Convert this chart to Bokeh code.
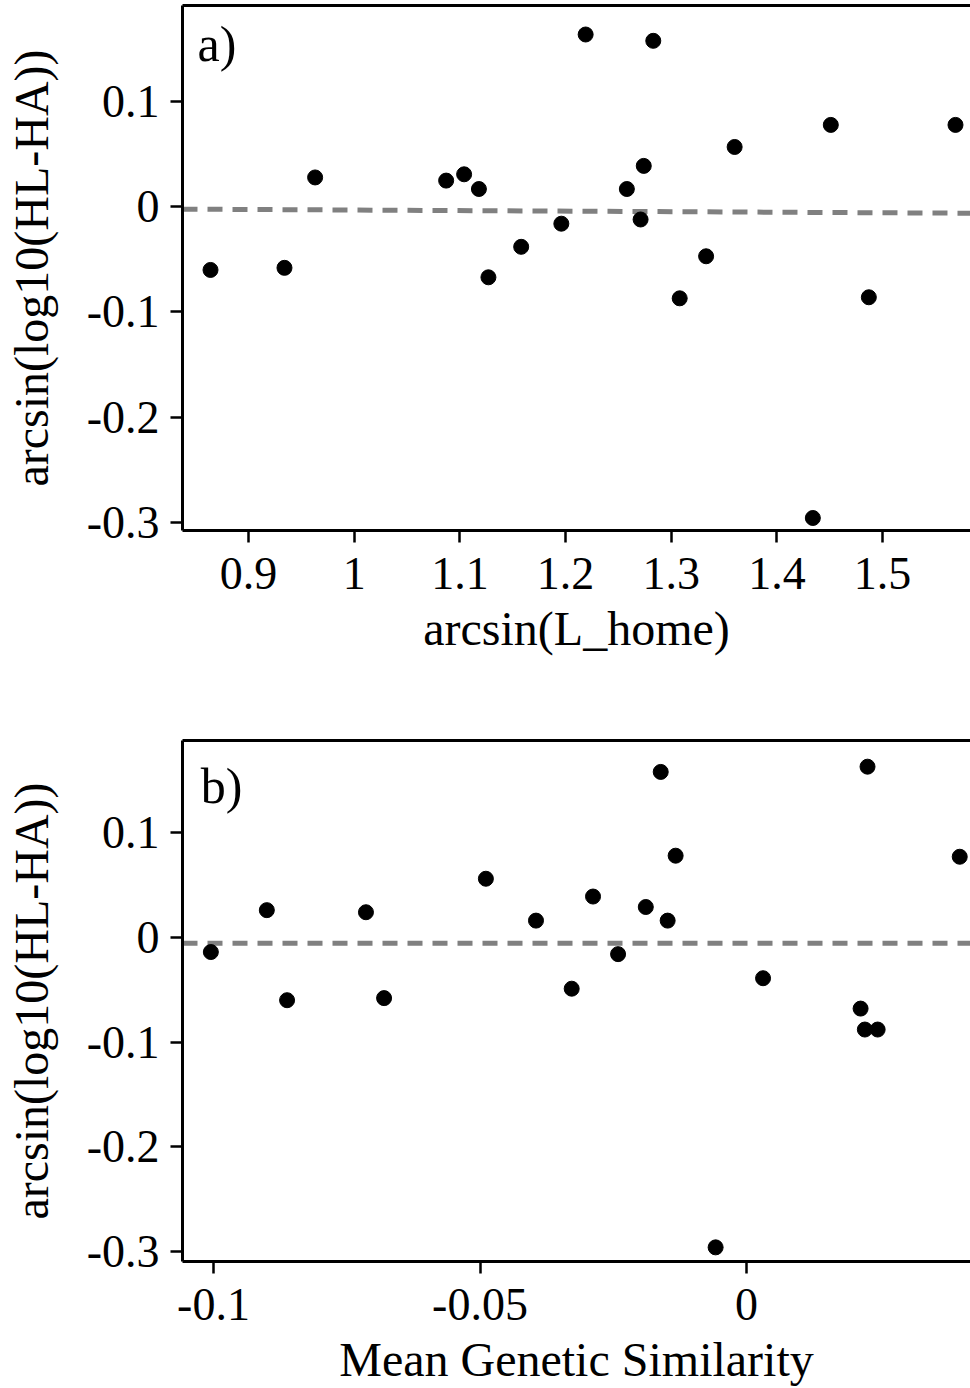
from bokeh.plotting import figure
from bokeh.models import LinearAxis, FixedTicker, Range1d, Label, BoxAnnotation
from bokeh.layouts import column
from bokeh.embed import file_html
from bokeh.resources import INLINE

FONT = "Liberation Serif"

# ---------------- data ----------------
# panel a
l_home = [0.864, 0.934, 0.963, 1.087, 1.104, 1.118, 1.127, 1.158, 1.196, 1.219, 1.258,
          1.271, 1.274, 1.283, 1.308, 1.333, 1.360, 1.434, 1.451, 1.487, 1.569]
resp_a = [-0.060, -0.058, 0.028, 0.025, 0.031, 0.017, -0.067, -0.038, -0.016, 0.164, 0.017,
          -0.012, 0.039, 0.158, -0.087, -0.047, 0.057, -0.296, 0.078, -0.086, 0.078]
fit_a = [0.0022, -0.0052]          # intercept, slope

# panel b
gen_sim = [-0.1005, -0.0900, -0.0862, -0.0714, -0.0680, -0.0489, -0.0395, -0.0328, -0.0288,
           -0.0241, -0.0189, -0.0161, -0.0148, -0.0133, -0.0058, 0.0031, 0.0214, 0.0222,
           0.0227, 0.0246, 0.0400]
resp_b = [-0.014, 0.026, -0.060, 0.024, -0.058, 0.056, 0.016, -0.049, 0.039, -0.016, 0.029,
          0.158, 0.016, 0.078, -0.296, -0.039, -0.068, -0.088, 0.163, -0.088, 0.077]
fit_b = [-0.0055, 0.0]

xticks_a = [0.9, 1.0, 1.1, 1.2, 1.3, 1.4, 1.5]
xlabels_a = ["0.9", "1", "1.1", "1.2", "1.3", "1.4", "1.5"]
xticks_b = [-0.1, -0.05, 0.0]
xlabels_b = ["-0.1", "-0.05", "0"]
yticks = [0.1, 0.0, -0.1, -0.2, -0.3]
ylabels = ["0.1", "0", "-0.1", "-0.2", "-0.3"]

Y_TITLE = "arcsin(log10(HL-HA))"


def style_axis(ax, ticks, labels):
    ax.ticker = FixedTicker(ticks=ticks)
    ax.major_label_overrides = dict(zip(ticks, labels))
    ax.minor_tick_line_color = None
    ax.major_tick_in = 0
    ax.major_tick_out = 12
    ax.major_tick_line_width = 2.5
    ax.major_tick_line_color = "black"
    ax.axis_line_width = 3
    ax.axis_line_color = "black"
    ax.major_label_text_font = FONT
    ax.major_label_text_font_size = "46px"
    ax.major_label_text_color = "black"
    ax.axis_label_text_font = FONT
    ax.axis_label_text_font_size = "48px"
    ax.axis_label_text_font_style = "normal"
    ax.axis_label_text_color = "black"


def make_panel(xs, ys, xr, yr, xticks, xlabels, xtitle, fit, tag, tag_x, tag_y,
               height, border_bottom):
    p = figure(width=970, height=height, x_range=Range1d(*xr), y_range=Range1d(*yr),
               output_backend="svg", toolbar_location=None,
               min_border_left=182, min_border_right=0, min_border_top=5,
               min_border_bottom=border_bottom,
               x_axis_location=None, y_axis_location=None)
    p.outline_line_color = None
    p.xgrid.visible = False
    p.ygrid.visible = False
    p.background_fill_color = "white"
    p.border_fill_color = "white"

    xa = LinearAxis(axis_label=xtitle)
    style_axis(xa, xticks, xlabels)
    xa.major_label_standoff = 15
    xa.axis_label_standoff = 10
    p.add_layout(xa, "below")

    ya = LinearAxis(axis_label=Y_TITLE)
    style_axis(ya, yticks, ylabels)
    ya.major_label_standoff = 11
    ya.axis_label_standoff = 26
    p.add_layout(ya, "left")

    top = LinearAxis(ticker=FixedTicker(ticks=[]))
    top.major_tick_out = 0
    top.major_tick_in = 0
    top.minor_tick_line_color = None
    top.major_label_standoff = 0
    top.axis_line_width = 3
    top.axis_line_color = "black"
    p.add_layout(top, "above")

    x0, x1 = xr
    p.line([x0, x1], [fit[0] + fit[1] * x0, fit[0] + fit[1] * x1],
           line_color="#808080", line_width=5, line_dash="15 10")
    p.scatter(xs, ys, size=15, fill_color="black", line_color="black")

    p.add_layout(Label(x=tag_x, y=tag_y, text=tag, text_font=FONT,
                       text_font_size="50px", text_color="black",
                       text_baseline="alphabetic"))
    return p


pa = make_panel(l_home, resp_a, (0.8375, 1.5832), (-0.3079, 0.1916),
                xticks_a, xlabels_a, "arcsin(L_home)", fit_a, "a)", 0.8517, 0.155,
                735, 205)
pb = make_panel(gen_sim, resp_b, (-0.10582, 0.04202), (-0.3095, 0.1880),
                xticks_b, xlabels_b, "Mean Genetic Similarity", fit_b, "b)", -0.1024, 0.145,
                653, 124)

# thin light separator at the top-left of the lower panel
pb.add_layout(BoxAnnotation(left=0, right=182, top=2, bottom=4,
                            left_units="canvas", right_units="canvas",
                            top_units="canvas", bottom_units="canvas",
                            fill_color="#c8c8c8", fill_alpha=1.0, line_color=None,
                            level="overlay"))

layout = column(pa, pb, spacing=0)
open("out.html", "w").write(file_html(layout, INLINE))
